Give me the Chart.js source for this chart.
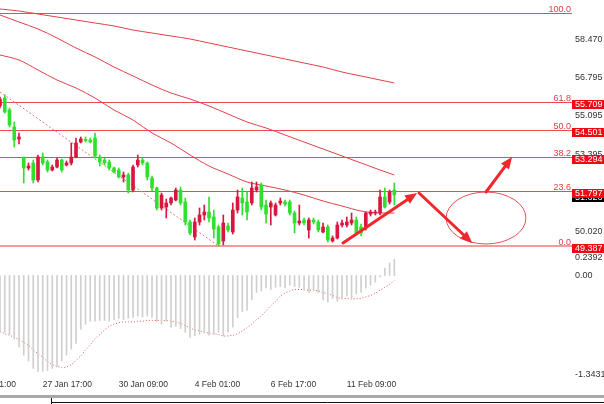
<!DOCTYPE html>
<html>
<head>
<meta charset="utf-8">
<script src="https://cdn.jsdelivr.net/npm/chart.js@4.4.1/dist/chart.umd.min.js"></script>
<style>
html, body { margin: 0; padding: 0; background: #fff; }
canvas { display: block; }
</style>
</head>
<body>
<canvas id="chart" width="604" height="404"></canvas>
<script>
// H4 candles, left to right (bar index = position in arrays)
const opens = [55.533,55.884,55.357,54.611,54.084,53.250,52.811,53.031,52.284,53.294,
  53.074,52.723,52.855,53.162,52.943,53.031,53.294,53.952,54.060,54.040,
  54.128,53.294,53.162,53.074,52.811,52.723,52.416,52.504,51.845,52.943,
  53.162,53.031,52.372,51.933,51.055,51.099,51.275,51.406,51.845,51.319,
  50.441,49.782,50.441,50.748,50.880,50.660,50.221,49.606,50.265,50.002,
  50.967,51.494,51.319,51.275,51.845,52.065,51.187,51.099,50.748,51.275,
  51.319,51.319,50.836,50.397,50.528,50.089,50.528,50.441,50.002,50.221,
  49.606,49.738,50.309,50.309,50.397,50.528,50.221,50.177,50.792,50.836,
  50.836,51.538,51.319,51.845];
const highs = [55.928,56.016,55.445,54.830,54.348,53.294,53.031,53.162,53.382,53.470,
  53.162,52.943,53.250,53.206,53.118,53.909,54.128,54.172,54.172,54.128,
  54.348,53.382,53.250,53.162,52.855,52.811,52.635,52.591,52.943,53.382,
  53.250,53.074,52.460,51.977,51.714,51.450,51.538,51.933,51.977,51.494,
  50.528,50.616,51.055,51.187,51.538,50.967,50.309,50.748,50.397,51.275,
  51.845,51.933,51.758,52.197,52.197,52.153,51.406,51.362,51.275,51.494,
  51.406,51.406,50.923,51.187,50.616,50.616,50.616,50.528,50.397,50.309,
  49.826,50.441,50.528,50.660,50.836,50.660,50.353,50.880,50.967,50.967,
  51.845,51.933,51.845,52.153];
const lows = [55.445,55.225,54.611,53.733,53.865,52.153,52.723,52.153,52.197,52.943,
  52.635,52.680,52.811,52.635,52.899,52.943,53.250,53.909,53.952,53.909,
  53.250,52.899,52.943,52.723,52.591,52.372,52.197,51.714,51.758,52.855,
  52.943,52.284,51.800,50.967,50.967,50.616,51.187,51.362,51.187,50.309,
  49.870,49.650,50.309,50.528,50.441,49.738,49.387,49.431,50.002,49.914,
  50.836,50.748,50.528,51.187,51.758,50.967,50.397,50.309,50.704,51.187,
  51.143,50.748,49.958,50.309,50.309,49.738,50.353,50.002,49.958,49.563,
  49.563,49.694,50.221,50.221,50.309,49.870,49.826,50.089,50.704,50.748,
  50.748,51.055,51.231,51.187];
const closes = [55.840,55.269,54.699,54.040,54.172,52.811,52.899,52.284,53.294,53.031,
  52.723,52.855,53.162,52.723,53.031,53.294,53.909,54.084,54.020,53.952,
  53.338,53.074,53.031,52.811,52.635,52.416,52.504,51.845,52.855,53.162,
  53.031,52.416,51.933,51.055,51.626,51.275,51.494,51.845,51.275,50.441,
  49.958,50.441,50.748,50.880,50.616,50.133,49.475,50.397,50.089,50.967,
  51.538,51.275,50.880,51.933,51.977,51.099,50.792,51.275,51.187,51.362,
  51.231,50.836,50.397,50.484,50.397,50.528,50.441,50.089,50.221,49.650,
  49.738,50.309,50.397,50.441,50.528,49.958,49.958,50.836,50.880,50.880,
  51.538,51.099,51.758,51.626];

// moving averages, sampled every few bars
const maBars = [0,4,8,12,16,20,24,28,32,36,40,44,48,52,56,60,64,68,72,76,80,83];
const maSlow = [59.791,59.703,59.571,59.440,59.308,59.176,59.045,58.869,58.737,58.606,58.474,
  58.298,58.123,57.947,57.772,57.596,57.420,57.245,57.025,56.850,56.674,56.542];
const maMid = [59.528,59.220,58.913,58.518,58.079,57.684,57.245,56.850,56.455,56.103,55.840,
  55.533,55.182,54.830,54.567,54.260,53.952,53.645,53.338,53.031,52.723,52.504];
const maFast = [57.772,57.552,57.113,56.674,56.323,55.884,55.357,54.918,54.348,53.909,53.382,
  52.899,52.548,52.197,52.021,51.845,51.626,51.362,51.143,50.923,50.836,50.836];

// MACD pane
const macdHist = [-0.76,-0.77,-0.80,-0.86,-0.97,-1.08,-1.16,-1.26,-1.30,-1.30,
  -1.29,-1.26,-1.24,-1.16,-1.08,-1.00,-0.92,-0.73,-0.66,-0.62,
  -0.62,-0.61,-0.61,-0.62,-0.60,-0.58,-0.60,-0.58,-0.57,-0.55,
  -0.56,-0.55,-0.57,-0.62,-0.66,-0.62,-0.70,-0.69,-0.72,-0.77,
  -0.84,-0.82,-0.80,-0.78,-0.81,-0.80,-0.77,-0.82,-0.77,-0.70,
  -0.57,-0.49,-0.47,-0.33,-0.23,-0.21,-0.17,-0.19,-0.16,-0.15,
  -0.17,-0.13,-0.15,-0.16,-0.20,-0.23,-0.20,-0.23,-0.33,-0.36,
  -0.31,-0.35,-0.32,-0.28,-0.31,-0.25,-0.23,-0.17,-0.13,-0.09,
  -0.02,0.10,0.17,0.22];
const macdSignal = [-0.76,-0.79,-0.81,-0.84,-0.87,-0.91,-0.95,-1.01,-1.06,-1.11,
  -1.17,-1.21,-1.23,-1.25,-1.24,-1.21,-1.15,-1.09,-1.01,-0.94,
  -0.86,-0.80,-0.74,-0.69,-0.66,-0.64,-0.63,-0.63,-0.63,-0.62,
  -0.62,-0.61,-0.61,-0.61,-0.61,-0.61,-0.62,-0.63,-0.65,-0.68,
  -0.71,-0.74,-0.75,-0.77,-0.78,-0.79,-0.80,-0.82,-0.82,-0.81,
  -0.79,-0.75,-0.71,-0.66,-0.60,-0.55,-0.48,-0.41,-0.35,-0.28,
  -0.24,-0.21,-0.19,-0.19,-0.19,-0.20,-0.20,-0.21,-0.23,-0.25,
  -0.27,-0.30,-0.31,-0.31,-0.32,-0.31,-0.31,-0.29,-0.27,-0.24,
  -0.20,-0.16,-0.12,-0.07];

// axes
const priceTicks = [58.470, 56.795, 55.095, 53.395, 51.695, 50.020];
const macdTicks = [0.2392, 0, -1.3431];
const macdTickLabels = ['0.2392', '0.00', '-1.3431'];
const timeBars = [-7, 9, 25, 41, 57, 73];
const timeLabels = ['24 Jan 01:00', '27 Jan 17:00', '30 Jan 09:00', '4 Feb 01:00', '6 Feb 17:00', '11 Feb 09:00'];

// fibonacci retracement
const fibRatios = ['100.0', '61.8', '50.0', '38.2', '23.6', '0.0'];
const fibPrices = [59.617, 55.709, 54.501, 53.294, 51.797, 49.387];
const trendBars = [0, 46];
const trendPrices = [56.15, 49.387];

// hand-drawn projection
const arrowFromBars = [72.2, 88.2, 102.3];
const arrowFromPrices = [49.519, 51.714, 51.758];
const arrowToBars = [87.8, 99.4, 107.8];
const arrowToPrices = [51.714, 49.519, 53.294];
const ovalBar = 102.3, ovalPrice = 50.616, ovalHalfBars = 8.4, ovalHalfPrice = 1.14;

const bull = '#d8173f', bear = '#2fe02f';
const lineRed = '#e2404a';
const candleColor = (i) => closes[i] >= opens[i] ? bull : bear;

Chart.defaults.font.family = '"Liberation Sans", Arial, sans-serif';
Chart.defaults.font.size = 9;
Chart.defaults.color = '#333';

function drawArrow(ctx, x1, y1, x2, y2) {
    const ang = Math.atan2(y2 - y1, x2 - x1);
    const head = 12, half = 5;
    const bx = x2 - head * Math.cos(ang), by = y2 - head * Math.sin(ang);
    ctx.lineWidth = 3;
    ctx.beginPath();
    ctx.moveTo(x1, y1);
    ctx.lineTo(bx, by);
    ctx.stroke();
    ctx.beginPath();
    ctx.moveTo(x2, y2);
    ctx.lineTo(bx + half * Math.sin(ang), by - half * Math.cos(ang));
    ctx.lineTo(bx - half * Math.sin(ang), by + half * Math.cos(ang));
    ctx.closePath();
    ctx.fill();
}

function tag(ctx, left, py, text, bg) {
    ctx.fillStyle = bg;
    ctx.fillRect(left, py - 2, 604 - left, 9);
    ctx.fillStyle = '#fff';
    ctx.textAlign = 'left';
    ctx.textBaseline = 'middle';
    ctx.fillText(text, left + 3, py + 2.5);
}

// keep the plot flush with the canvas edges
function noPad(s) {
    s.paddingLeft = 0; s.paddingRight = 0; s.paddingTop = 0; s.paddingBottom = 0;
}

const overlay = {
    id: 'overlay',
    beforeDatasetsDraw(chart) {
        const {ctx, chartArea: a} = chart;
        const y = chart.scales.y;
        ctx.save();
        fibPrices.forEach((p, k) => {
            const last = k === fibPrices.length - 1;
            const py = Math.round(y.getPixelForValue(p)) + (last ? 0 : 0.5);
            ctx.strokeStyle = last ? '#f39a9a' : '#ea4a55';
            ctx.lineWidth = last ? 2 : 1;
            ctx.beginPath();
            ctx.moveTo(a.left, py);
            ctx.lineTo(a.right, py);
            ctx.stroke();
        });
        ctx.restore();
    },
    afterDatasetsDraw(chart) {
        const {ctx, chartArea: a} = chart;
        const x = chart.scales.x, y = chart.scales.y;
        ctx.save();
        ctx.font = '9px "Liberation Sans", Arial, sans-serif';
        ctx.fillStyle = '#e03a46';
        ctx.textAlign = 'right';
        ctx.textBaseline = 'alphabetic';
        fibPrices.forEach((p, k) => {
            ctx.fillText(fibRatios[k], a.right - 1, Math.round(y.getPixelForValue(p)) - 1);
        });
        // oval
        const cx = x.getPixelForValue(ovalBar), cy = y.getPixelForValue(ovalPrice);
        const rx = x.getPixelForValue(ovalBar + ovalHalfBars) - cx;
        const ry = cy - y.getPixelForValue(ovalPrice + ovalHalfPrice);
        ctx.strokeStyle = '#e5505a';
        ctx.lineWidth = 1;
        ctx.beginPath();
        ctx.ellipse(cx, cy, rx, ry, 0, 0, Math.PI * 2);
        ctx.stroke();
        // arrows
        ctx.strokeStyle = '#f0282c';
        ctx.fillStyle = '#f0282c';
        ctx.lineCap = 'round';
        arrowFromBars.forEach((b, k) => {
            drawArrow(ctx,
                x.getPixelForValue(b), y.getPixelForValue(arrowFromPrices[k]),
                x.getPixelForValue(arrowToBars[k]), y.getPixelForValue(arrowToPrices[k]));
        });
        ctx.restore();
    },
    afterDraw(chart) {
        const {ctx, chartArea: a} = chart;
        const y = chart.scales.y;
        ctx.save();
        ctx.font = '9px "Liberation Sans", Arial, sans-serif';
        const lastClose = closes[closes.length - 1];
        tag(ctx, a.right, y.getPixelForValue(lastClose), lastClose.toFixed(3), '#000');
        fibPrices.forEach((p, k) => {
            if (k === 0) return;
            tag(ctx, a.right, Math.round(y.getPixelForValue(p)), p.toFixed(3), '#ee0a12');
        });
        // terminal strip at the bottom
        ctx.fillStyle = '#a9a9a9';
        ctx.fillRect(0, 395, 604, 3);
        ctx.strokeStyle = '#111';
        ctx.lineWidth = 1;
        ctx.beginPath();
        ctx.moveTo(51, 402.5);
        ctx.lineTo(604, 402.5);
        ctx.moveTo(51.5, 398);
        ctx.lineTo(51.5, 404);
        ctx.stroke();
        ctx.restore();
    }
};

const bodies = opens.map((o, i) => ({x: i, y: [o, closes[i]]}));
const wicks = lows.map((l, i) => ({x: i, y: [l, highs[i]]}));
const pts = (xs, ys) => xs.map((b, k) => ({x: b, y: ys[k]}));

new Chart(document.getElementById('chart'), {
    type: 'bar',
    data: {
        datasets: [
            {
                data: bodies, yAxisID: 'y', barThickness: 3, minBarLength: 1, grouped: false,
                backgroundColor: (c) => candleColor(c.dataIndex),
            },
            {
                data: wicks, yAxisID: 'y', barThickness: 1, grouped: false,
                backgroundColor: (c) => candleColor(c.dataIndex),
            },
            { type: 'line', data: pts(maBars, maSlow), yAxisID: 'y', borderColor: lineRed, borderWidth: 1, pointRadius: 0, cubicInterpolationMode: 'monotone' },
            { type: 'line', data: pts(maBars, maMid), yAxisID: 'y', borderColor: lineRed, borderWidth: 1, pointRadius: 0, cubicInterpolationMode: 'monotone' },
            { type: 'line', data: pts(maBars, maFast), yAxisID: 'y', borderColor: lineRed, borderWidth: 1, pointRadius: 0, cubicInterpolationMode: 'monotone' },
            { type: 'line', data: pts(trendBars, trendPrices), yAxisID: 'y', borderColor: '#e87878', borderWidth: 1, borderDash: [2, 2], pointRadius: 0 },
            {
                data: macdHist.map((v, i) => ({x: i, y: v})), yAxisID: 'y2', barThickness: 1, grouped: false,
                backgroundColor: '#cfcfcf',
            },
            {
                type: 'line', data: macdSignal.map((v, i) => ({x: i, y: v})), yAxisID: 'y2',
                borderColor: '#e05a5a', borderWidth: 1, borderDash: [1, 2], pointRadius: 0, tension: 0.3,
            },
        ],
    },
    options: {
        responsive: false,
        animation: false,
        events: [],
        layout: { padding: 0 },
        plugins: { legend: { display: false }, tooltip: { enabled: false } },
        scales: {
            x: {
                type: 'linear', min: 0, max: 120.4, offset: false,
                grid: { display: false, drawTicks: false }, border: { display: false },
                afterBuildTicks: (s) => { s.ticks = timeBars.map((v) => ({value: v})); },
                afterFit: (s) => { s.height = 28; noPad(s); },
                ticks: {
                    autoSkip: false, maxRotation: 0, align: 'start', padding: 4,
                    font: { size: 8.5 }, color: '#333',
                    callback: (v, i) => timeLabels[i],
                },
            },
            y: {
                position: 'right', stack: 'pane', stackWeight: 256,
                min: 48.948, max: 60.186,
                grid: { display: false, drawTicks: false }, border: { display: false },
                afterBuildTicks: (s) => { s.ticks = priceTicks.map((v) => ({value: v})); },
                afterFit: (s) => { s.width = 32; noPad(s); },
                ticks: { autoSkip: false, padding: 3, color: '#333', callback: (v) => v.toFixed(3) },
            },
            y2: {
                position: 'right', stack: 'pane', stackWeight: 120,
                min: -1.3636, max: 0.2646,
                grid: { display: false, drawTicks: false }, border: { display: false },
                afterBuildTicks: (s) => { s.ticks = macdTicks.map((v) => ({value: v})); },
                afterFit: (s) => { s.width = 32; noPad(s); },
                ticks: { autoSkip: false, padding: 3, color: '#333', callback: (v, i) => macdTickLabels[i] },
            },
        },
    },
    plugins: [overlay],
});
</script>
</body>
</html>
